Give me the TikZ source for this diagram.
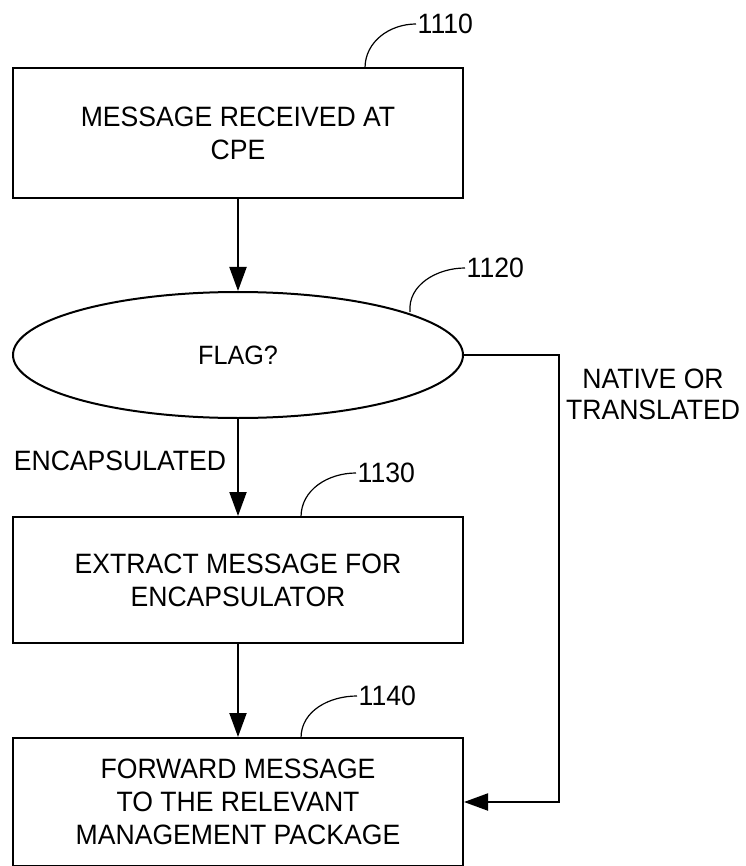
\documentclass[tikz,border=0pt]{standalone}
\usepackage{fontspec}
\setmainfont[FakeStretch=0.95]{Liberation Sans}
\usetikzlibrary{shapes.geometric,arrows.meta}

\begin{document}
\begin{tikzpicture}[x=1pt,y=-1pt,
  txt/.style={font=\fontsize{28}{33}\selectfont, align=center, inner sep=0pt},
  stepbox/.style={txt, draw, line width=2pt, rectangle, minimum width=450pt, minimum height=128pt},
  decision/.style={txt, draw, line width=2pt, ellipse, minimum width=450pt, minimum height=126pt,
    font=\fontsize{26.5}{30}\selectfont},
  flow/.style={line width=2pt, -{Triangle[length=24pt,width=17pt]}},
  leader/.style={line width=1.2pt},
  refnum/.style={font=\fontsize{28}{30}\selectfont, anchor=west, inner sep=1.5pt},
]
\useasboundingbox (0,0) rectangle (745,866);

% process steps
\node[stepbox, minimum height=130pt] (s1110) at (238,133) {MESSAGE RECEIVED AT\\CPE};
\node[decision] (s1120) at (238,355) {FLAG?};
\node[stepbox, minimum height=126pt] (s1130) at (238,580) {EXTRACT MESSAGE FOR\\ENCAPSULATOR};
\node[stepbox] (s1140) at (238,802) {FORWARD MESSAGE\\TO THE RELEVANT\\MANAGEMENT PACKAGE};

% flow arrows
\draw[flow] (s1110.south) -- (s1120.north);
\draw[flow] (s1120.south) -- (s1130.north);
\draw[flow] (s1130.south) -- (s1140.north);
\draw[flow] (s1120.east) -- ++(95,0) |- (s1140.east);

% branch labels
\node[txt] (encap) at (120,461) {ENCAPSULATED};
\node[txt, font=\fontsize{28}{31}\selectfont] (native) at (653,394) {NATIVE OR\\TRANSLATED};

% reference numerals with leader curves
\node[refnum] (r1110) at (416,24) {1110};
\node[refnum] (r1120) at (465,268) {1120};
\node[refnum] (r1130) at (356,473) {1130};
\node[refnum] (r1140) at (357,696) {1140};

\coordinate (p1110) at (365,68);
\coordinate (p1120) at (410,312);
\coordinate (p1130) at (301,517);
\coordinate (p1140) at (301,738);

\draw[leader] (p1110) to[out=90,in=180] (r1110.west);
\draw[leader] (p1120) to[out=95,in=180] (r1120.west);
\draw[leader] (p1130) to[out=90,in=180] (r1130.west);
\draw[leader] (p1140) to[out=90,in=180] (r1140.west);
\end{tikzpicture}
\end{document}
